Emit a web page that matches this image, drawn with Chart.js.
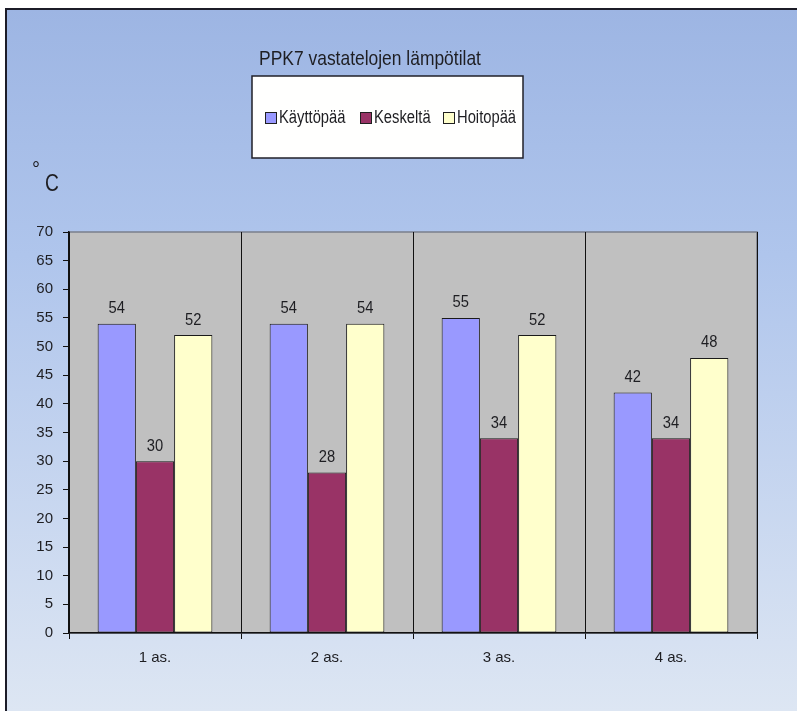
<!DOCTYPE html>
<html>
<head>
<meta charset="utf-8">
<script src="https://cdn.jsdelivr.net/npm/chart.js@4/dist/chart.umd.min.js"></script>
<style>
  html, body { margin: 0; padding: 0; background: #ffffff; }
  canvas { display: block; }
</style>
</head>
<body>
<canvas id="c" width="797" height="711"></canvas>
<script>
// Roll positions along the conveyor
const categories = ['1 as.', '2 as.', '3 as.', '4 as.'];
// Bearing temperatures (°C) per measuring point
const kayttopaa = [54, 54, 55, 42];
const keskelta  = [30, 28, 34, 34];
const hoitopaa  = [52, 54, 52, 48];
const seriesNames = ['Käyttöpää', 'Keskeltä', 'Hoitopää'];
const seriesColors = ['#9999ff', '#993366', '#ffffcc'];
const yTicks = [0, 5, 10, 15, 20, 25, 30, 35, 40, 45, 50, 55, 60, 65, 70];

const FONT = '"Liberation Sans", Arial, sans-serif';
const TEXT = '#1e1e22';

// Draw text squeezed horizontally (narrow face look)
function narrowText(ctx, text, x, y, size, squeeze, align) {
  ctx.save();
  ctx.font = size + 'px ' + FONT;
  ctx.textAlign = align;
  ctx.textBaseline = 'middle';
  ctx.translate(x, y);
  ctx.scale(squeeze, 1);
  ctx.fillText(text, 0, 0);
  ctx.restore();
}

// Page background, outer frame and grey plot area
const backdrop = {
  id: 'backdrop',
  beforeDraw(chart) {
    const { ctx, chartArea: a, width, height } = chart;
    ctx.save();
    ctx.fillStyle = '#ffffff';
    ctx.fillRect(0, 0, width, height);
    const g = ctx.createLinearGradient(0, 9, 0, height);
    g.addColorStop(0, '#9db5e3');
    g.addColorStop(0.35, '#afc5ec');
    g.addColorStop(1, '#dde6f3');
    ctx.fillStyle = g;
    ctx.fillRect(6, 9, width - 6, height - 9);
    ctx.strokeStyle = '#1c1c28';
    ctx.lineWidth = 2;
    ctx.beginPath();
    ctx.moveTo(6, height);
    ctx.lineTo(6, 9);
    ctx.lineTo(width, 9);
    ctx.stroke();
    ctx.fillStyle = '#c0c0c0';
    ctx.fillRect(a.left, a.top, a.right - a.left, a.bottom - a.top);
    ctx.strokeStyle = '#7a7f8c';
    ctx.lineWidth = 1.5;
    ctx.strokeRect(a.left, a.top, a.right - a.left, a.bottom - a.top);
    ctx.restore();
  }
};

// Value labels above each bar
const valueLabels = {
  id: 'valueLabels',
  afterDatasetsDraw(chart) {
    const { ctx } = chart;
    ctx.save();
    ctx.fillStyle = TEXT;
    chart.data.datasets.forEach((ds, i) => {
      chart.getDatasetMeta(i).data.forEach((bar, j) => {
        narrowText(ctx, String(ds.data[j]), bar.x, bar.y - 15, 16, 0.92, 'center');
      });
    });
    ctx.restore();
  }
};

// Title, boxed legend and unit label
const headings = {
  id: 'headings',
  afterDraw(chart) {
    const { ctx } = chart;
    ctx.save();
    ctx.fillStyle = TEXT;
    narrowText(ctx, 'PPK7 vastatelojen lämpötilat', 370, 59, 21, 0.83, 'center');

    // legend box
    ctx.fillStyle = '#fffffe';
    ctx.fillRect(252, 76, 271, 82);
    ctx.strokeStyle = '#202028';
    ctx.lineWidth = 1.5;
    ctx.strokeRect(252, 76, 271, 82);
    const xs = [265, 360, 443];
    chart.data.datasets.forEach((ds, i) => {
      const x = xs[i];
      ctx.fillStyle = ds.backgroundColor;
      ctx.fillRect(x, 112, 11, 11);
      ctx.strokeStyle = '#202020';
      ctx.lineWidth = 1;
      ctx.strokeRect(x + 0.5, 112.5, 11, 11);
      ctx.fillStyle = TEXT;
      narrowText(ctx, ds.label, x + 14, 118, 18, 0.82, 'left');
    });

    // unit
    narrowText(ctx, '°', 32, 170, 20, 1, 'left');
    narrowText(ctx, 'C', 45, 184, 24, 0.8, 'left');
    ctx.restore();
  }
};

const datasets = [kayttopaa, keskelta, hoitopaa].map((d, i) => ({
  label: seriesNames[i],
  data: d,
  backgroundColor: seriesColors[i],
  borderColor: '#1a1a1a',
  borderWidth: 1,
  borderSkipped: false,
  categoryPercentage: 0.667,
  barPercentage: 1.0
}));

new Chart(document.getElementById('c'), {
  type: 'bar',
  data: { labels: categories, datasets },
  options: {
    responsive: false,
    animation: false,
    devicePixelRatio: 1,
    layout: { padding: { left: 0, top: 232, right: 40, bottom: 0 } },
    plugins: {
      legend: { display: false },
      title: { display: false },
      tooltip: { enabled: false }
    },
    scales: {
      x: {
        offset: true,
        grid: {
          offset: true,
          drawOnChartArea: true,
          color: (c) => (c.index === categories.length ? '#7a7f8c' : '#111111'),
          lineWidth: 1,
          tickLength: 6
        },
        border: { display: true, color: '#111111', width: 1.5 },
        ticks: { font: { family: FONT, size: 15 }, color: TEXT, padding: 10 },
        afterFit(s) { s.height = 78; }
      },
      y: {
        min: 0,
        max: 70,
        afterBuildTicks(s) { s.ticks = yTicks.map(v => ({ value: v })); },
        grid: { drawOnChartArea: false, color: '#111111', tickLength: 6 },
        border: { display: true, color: '#111111', width: 1.5 },
        ticks: { font: { family: FONT, size: 15 }, color: TEXT, padding: 10 },
        afterFit(s) { s.width = 69; }
      }
    }
  },
  plugins: [backdrop, valueLabels, headings]
});
</script>
</body>
</html>
